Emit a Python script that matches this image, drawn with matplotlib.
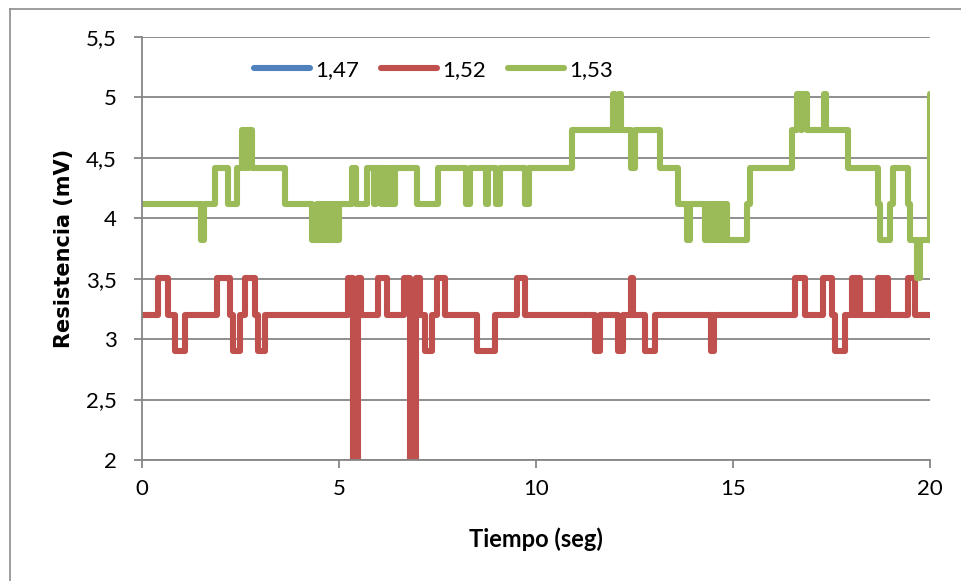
import matplotlib
matplotlib.use("Agg")
import matplotlib.pyplot as plt
from matplotlib.lines import Line2D
from matplotlib.ticker import FuncFormatter

# ---------------- data ----------------
series_labels = ["1,47", "1,52", "1,53"]
series_colors = ["#4F81BD", "#C0504D", "#9BBB59"]

# 1,47 : not visible in the chart
t_147 = []
v_147 = []

# 1,52 : change times (s) and value held from that time (mV)
t_152 = [0.00, 0.41, 0.66, 0.84, 1.09, 1.90, 2.23, 2.31, 2.49, 2.61, 2.87,
         2.94, 3.12, 5.23, 5.36, 5.49, 5.56, 5.99, 6.22, 6.66, 6.80, 6.95,
         7.06, 7.18, 7.36, 7.49, 7.69, 8.50, 8.96, 9.52, 9.72, 11.50, 11.62,
         12.08, 12.21, 12.42, 12.47, 12.77, 13.02, 14.44, 14.52, 16.57, 16.83,
         17.28, 17.51, 17.59, 17.84, 18.02, 18.07, 18.10, 18.15, 18.18, 18.22,
         18.68, 18.74, 18.77, 18.83, 18.86, 18.93, 19.44, 19.62, 20.00]
v_152 = [3.20, 3.51, 3.20, 2.90, 3.20, 3.51, 3.20, 2.90, 3.20, 3.51, 3.20,
         2.90, 3.20, 3.51, 1.00, 3.51, 3.20, 3.51, 3.20, 3.51, 1.00, 3.51,
         3.20, 2.90, 3.20, 3.51, 3.20, 2.90, 3.20, 3.51, 3.20, 2.90, 3.20,
         2.90, 3.20, 3.51, 3.20, 2.90, 3.20, 2.90, 3.20, 3.51, 3.20,
         3.51, 3.20, 2.90, 3.20, 3.51, 3.20, 3.51, 3.20, 3.51, 3.20,
         3.51, 3.20, 3.51, 3.20, 3.51, 3.20, 3.51, 3.20, 3.20]

# 1,53
t_153 = [0.00, 1.50, 1.58, 1.85, 2.18, 2.40, 2.55, 2.60, 2.63, 2.68, 2.70,
         2.80, 3.63, 4.31, 4.45, 4.48, 4.55, 4.58, 4.62, 4.65, 4.70, 4.72,
         4.77, 4.80, 4.85, 4.88, 4.93, 4.95, 5.00, 5.33, 5.42, 5.70, 5.88,
         5.95, 6.06, 6.10, 6.14, 6.18, 6.22, 6.26, 6.30, 6.34, 6.38, 6.42,
         6.47, 6.98, 7.51, 8.22, 8.32, 8.72, 8.78, 8.98, 9.08, 9.72, 9.82,
         10.91, 11.96, 12.00, 12.11, 12.15, 12.40, 12.50, 13.15, 13.60, 13.83,
         13.90, 14.29, 14.36, 14.40, 14.45, 14.49, 14.54, 14.58, 14.63, 14.67,
         14.72, 14.76, 14.81, 14.85, 15.36, 15.43, 16.50, 16.62, 16.72, 16.76,
         16.88, 17.30, 17.37, 17.92, 18.68, 18.72, 18.98, 19.05, 19.44, 19.50,
         19.67, 19.75, 19.92, 20.00]
v_153 = [4.12, 3.82, 4.12, 4.42, 4.12, 4.42, 4.73, 4.42, 4.73, 4.42, 4.73,
         4.42, 4.12, 3.82, 4.12, 3.82, 4.12, 3.82, 4.12, 3.82, 4.12, 3.82,
         4.12, 3.82, 4.12, 3.82, 4.12, 3.82, 4.12, 4.42, 4.12, 4.42, 4.12,
         4.42, 4.12, 4.42, 4.12, 4.42, 4.12, 4.42, 4.12, 4.42, 4.12, 4.42,
         4.42, 4.12, 4.42, 4.12, 4.42, 4.12, 4.42, 4.12, 4.42, 4.12, 4.42,
         4.73, 5.03, 4.73, 5.03, 4.73, 4.42, 4.73, 4.42, 4.12, 3.82,
         4.12, 3.82, 4.12, 3.82, 4.12, 3.82, 4.12, 3.82, 4.12, 3.82,
         4.12, 3.82, 4.12, 3.82, 4.12, 4.42, 4.73, 5.03, 4.73, 5.03,
         4.73, 5.03, 4.73, 4.42, 4.12, 3.82, 4.12, 4.42, 4.12, 3.82,
         3.51, 3.82, 3.82, 5.03]

x_ticks = [0, 5, 10, 15, 20]
y_ticks = [2, 2.5, 3, 3.5, 4, 4.5, 5, 5.5]
x_label = "Tiempo (seg)"
y_label = "Resistencia (mV)"

# ---------------- figure ----------------
plt.rcParams["font.family"] = ["Lato", "DejaVu Sans"]
W, H = 961, 581
fig = plt.figure(figsize=(W / 100, H / 100), dpi=100)

# outer chart border (left and top edges visible)
fig.add_artist(Line2D([9.5 / W, 9.5 / W], [0, 1 - 8.5 / H], transform=fig.transFigure,
                      color="#8C8C8C", lw=1.2))
fig.add_artist(Line2D([9.5 / W, 1], [1 - 8.5 / H, 1 - 8.5 / H], transform=fig.transFigure,
                      color="#8C8C8C", lw=1.2))

left, right, top, bottom = 142, 930, 37, 460
ax = fig.add_axes([left / W, 1 - bottom / H, (right - left) / W, (bottom - top) / H])

grid_c = "#868686"
for s in ["top", "right"]:
    ax.spines[s].set_visible(False)
for s in ["left", "bottom"]:
    ax.spines[s].set_color(grid_c)
    ax.spines[s].set_linewidth(1.3)

ax.set_xlim(0, 20)
ax.set_ylim(2, 5.5)
ax.set_xticks(x_ticks)
ax.set_yticks(y_ticks)
fmt = FuncFormatter(lambda v, p: ("%g" % v).replace(".", ","))
ax.xaxis.set_major_formatter(fmt)
ax.yaxis.set_major_formatter(fmt)
ax.tick_params(axis="both", direction="out", length=6, width=1.3, color=grid_c,
               labelsize=16, labelcolor="black")
ax.tick_params(axis="y", pad=12)
ax.tick_params(axis="x", pad=8)
ax.yaxis.grid(True, color=grid_c, lw=1.3)
ax.set_axisbelow(True)

data = [(t_147, v_147), (t_152, v_152), (t_153, v_153)]
for (t, v), lab, c in zip(data, series_labels, series_colors):
    ax.plot(t, v, drawstyle="steps-post", color=c, lw=4.4, label=lab,
            solid_joinstyle="round", solid_capstyle="round")

leg = ax.legend(loc="center", bbox_to_anchor=(0.37, 0.922), ncol=3, frameon=False,
                fontsize=16, handlelength=2.5, handletextpad=0.25, columnspacing=1.0)

ax.set_xlabel(x_label, fontsize=17, fontweight="bold", labelpad=20)
ax.set_ylabel(y_label, fontsize=15, fontweight="bold", labelpad=9,
              family=["DejaVu Sans"])

fig.savefig("out.png", dpi=100)
